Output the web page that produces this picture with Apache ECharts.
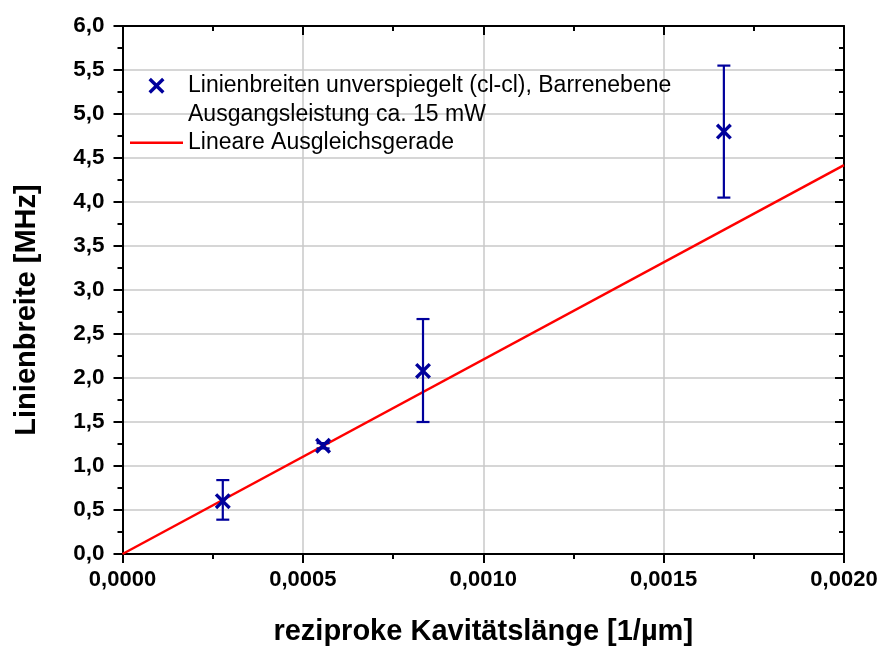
<!DOCTYPE html>
<html>
<head>
<meta charset="utf-8">
<script src="https://cdn.jsdelivr.net/npm/echarts@6/dist/echarts.min.js"></script>
<style>
  html, body { margin: 0; padding: 0; background: #fff; }
  #chart { width: 884px; height: 646px; }
</style>
</head>
<body>
<div id="chart"></div>
<script>
// Measured linewidths vs. reciprocal cavity length
const cavityInv = [0.000278, 0.000556, 0.000833, 0.001667];   // 1/µm
const linewidth = [0.60, 1.23, 2.08, 4.80];                   // MHz
const errLow    = [0.39, 1.20, 1.50, 4.05];
const errHigh   = [0.84, 1.26, 2.67, 5.55];

// Linear fit through the origin (end points of the drawn line)
const fitX = [0, 0.002];
const fitY = [0, 4.42];

const seriesName = 'Linienbreiten unverspiegelt (cl-cl), Barrenebene\nAusgangsleistung ca. 15 mW';
const fitName = 'Lineare Ausgleichsgerade';

const FONT = '"Liberation Sans", Arial, Helvetica, sans-serif';
const BLUE = '#00009c';
const RED = '#ff0000';

// Filled "x" marker
const CROSS = 'path://M0,1.5L1.5,0L5,3.5L8.5,0L10,1.5L6.5,5L10,8.5L8.5,10L5,6.5L1.5,10L0,8.5L3.5,5Z';
// Plain line segment for the fit legend entry
const LINE_ICON = 'path://M0,0L53,0L53,2.5L0,2.5Z';

const chart = echarts.init(document.getElementById('chart'), null, { renderer: 'canvas' });

const fmtY = v => v.toFixed(1).replace('.', ',');
const fmtX = v => v.toFixed(4).replace('.', ',');

const axisLine = { show: true, onZero: false, lineStyle: { color: '#000', width: 2 } };

chart.setOption({
  animation: false,
  backgroundColor: '#fff',
  grid: { left: 122.5, right: 40, top: 26, bottom: 92, containLabel: false, outerBoundsMode: 'none' },
  legend: {
    orient: 'vertical',
    left: 125,
    top: 38,
    itemWidth: 53,
    itemHeight: 16,
    itemGap: 0,
    textStyle: { fontFamily: FONT, fontSize: 23, color: '#000', lineHeight: 28.5 },
    // a leading blank line keeps the first text line level with the marker
    formatter: name => (name === seriesName ? '\n' + name : name),
    data: [
      { name: seriesName },
      { name: fitName, icon: LINE_ICON, itemStyle: { color: RED } }
    ]
  },
  xAxis: [
    {
      type: 'value', position: 'bottom', min: 0, max: 0.002, interval: 0.0005,
      axisLine,
      axisTick: { show: true, inside: false, length: 9, lineStyle: { color: '#000', width: 2 } },
      minorTick: { show: true, splitNumber: 2, length: 5, lineStyle: { color: '#000', width: 2 } },
      axisLabel: { formatter: fmtX, fontFamily: FONT, fontSize: 22, fontWeight: 'bold', color: '#000', margin: 15 },
      splitLine: { show: true, lineStyle: { color: '#c8c8c8', width: 1.5 } },
      name: 'reziproke Kavitätslänge [1/µm]',
      nameLocation: 'middle',
      nameGap: 63,
      nameTextStyle: { fontFamily: FONT, fontSize: 29, fontWeight: 'bold', color: '#000' }
    },
    {
      type: 'value', position: 'top', min: 0, max: 0.002, interval: 0.0005,
      axisLine,
      axisTick: { show: true, inside: true, length: 9, lineStyle: { color: '#000', width: 2 } },
      minorTick: { show: true, splitNumber: 2, length: 5, lineStyle: { color: '#000', width: 2 } },
      axisLabel: { show: false },
      splitLine: { show: false }
    }
  ],
  yAxis: [
    {
      type: 'value', position: 'left', min: 0, max: 6, interval: 0.5,
      axisLine,
      axisTick: { show: true, inside: false, length: 9, lineStyle: { color: '#000', width: 2 } },
      minorTick: { show: true, splitNumber: 2, length: 5, lineStyle: { color: '#000', width: 2 } },
      axisLabel: { formatter: fmtY, fontFamily: FONT, fontSize: 22.5, fontWeight: 'bold', color: '#000', margin: 18 },
      splitLine: { show: true, lineStyle: { color: '#c8c8c8', width: 1.5 } },
      name: 'Linienbreite [MHz]',
      nameLocation: 'middle',
      nameGap: 81,
      nameTextStyle: { fontFamily: FONT, fontSize: 29, fontWeight: 'bold', color: '#000', padding: [0, 40, 0, 0] }
    },
    {
      type: 'value', position: 'right', min: 0, max: 6, interval: 0.5,
      axisLine,
      axisTick: { show: true, inside: true, length: 9, lineStyle: { color: '#000', width: 2 } },
      minorTick: { show: true, splitNumber: 2, length: 5, lineStyle: { color: '#000', width: 2 } },
      axisLabel: { show: false },
      splitLine: { show: false }
    }
  ],
  series: [
    {
      name: fitName,
      type: 'line',
      xAxisIndex: 0, yAxisIndex: 0,
      data: fitX.map((x, i) => [x, fitY[i]]),
      symbol: 'none',
      showSymbol: false,
      lineStyle: { color: RED, width: 2.5 },
      itemStyle: { color: RED },
      z: 3
    },
    {
      type: 'custom',
      xAxisIndex: 0, yAxisIndex: 0,
      data: cavityInv.map((x, i) => [x, errLow[i], errHigh[i]]),
      renderItem: function (params, api) {
        const x = api.value(0);
        const lo = api.coord([x, api.value(1)]);
        const hi = api.coord([x, api.value(2)]);
        const cap = 6.5;
        const style = { stroke: BLUE, lineWidth: 2.2, fill: null };
        return {
          type: 'group',
          children: [
            { type: 'line', shape: { x1: lo[0], y1: lo[1], x2: hi[0], y2: hi[1] }, style },
            { type: 'line', shape: { x1: lo[0] - cap, y1: lo[1], x2: lo[0] + cap, y2: lo[1] }, style },
            { type: 'line', shape: { x1: hi[0] - cap, y1: hi[1], x2: hi[0] + cap, y2: hi[1] }, style }
          ]
        };
      },
      z: 4
    },
    {
      name: seriesName,
      type: 'scatter',
      xAxisIndex: 0, yAxisIndex: 0,
      data: cavityInv.map((x, i) => [x, linewidth[i]]),
      symbol: CROSS,
      symbolSize: 16,
      itemStyle: { color: BLUE, opacity: 1 },
      z: 5
    }
  ]
});
</script>
</body>
</html>
